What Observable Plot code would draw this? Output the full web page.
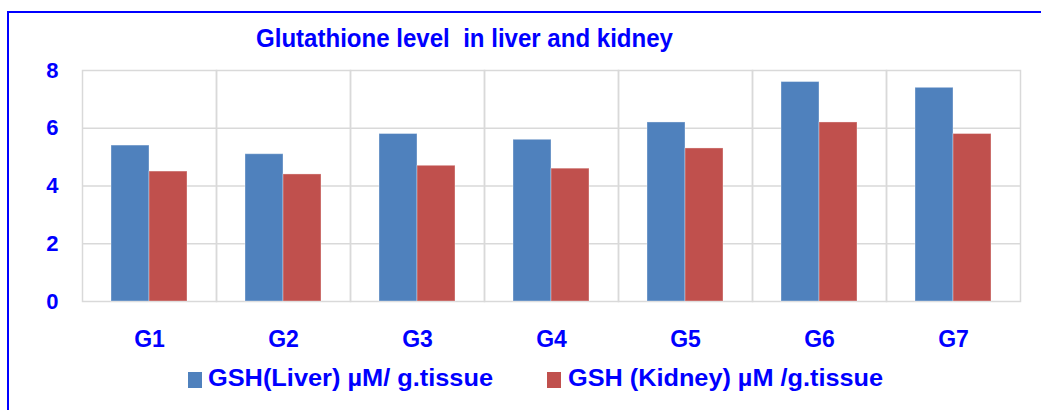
<!DOCTYPE html>
<html>
<head>
<meta charset="utf-8">
<script src="https://cdn.jsdelivr.net/npm/d3@7"></script>
<script src="https://cdn.jsdelivr.net/npm/@observablehq/plot@0.6"></script>
<style>
  body { margin: 0; background: #fff; }
  #wrap { position: relative; width: 1041px; height: 410px; overflow: hidden; background: #fff;
          font-family: "Liberation Sans", Arial, sans-serif; }
  #border { position: absolute; left: 7px; top: 11px; width: 1100px; height: 500px;
            border: 2px solid #0000FF; box-sizing: border-box; }
  #title { position: absolute; left: 256px; top: 24.7px; transform-origin: 0 0; z-index: 2;
           font-size: 26px; line-height: 26px; font-weight: bold; color: #0000FF; white-space: pre; }
  #chart { position: absolute; left: 0; top: 40px; z-index: 1; }
  .leg { position: absolute; top: 365.7px; font-size: 24px; line-height: 24px; font-weight: bold;
         color: #0000FF; white-space: pre; transform-origin: 0 0; }
  .sw { position: absolute; top: 372px; width: 14px; height: 16px; }
</style>
</head>
<body>
<div id="wrap">
  <div id="border"></div>
  <div id="chart"></div>
  <div id="title"></div>
  <div id="legend"></div>
</div>
<script>
const titleText = "Glutathione level  in liver and kidney";
const groups = ["G1", "G2", "G3", "G4", "G5", "G6", "G7"];
const seriesNames = ["GSH(Liver) µM/ g.tissue", "GSH (Kidney) µM /g.tissue"];
const liver = [5.4, 5.1, 5.8, 5.6, 6.2, 7.6, 7.4];
const kidney = [4.5, 4.4, 4.7, 4.6, 5.3, 6.2, 5.8];
const yTicks = [0, 2, 4, 6, 8];
const colors = ["#4F81BD", "#C0504D"];

const data = [];
groups.forEach((g, i) => {
  data.push({group: g, series: seriesNames[0], value: liver[i]});
  data.push({group: g, series: seriesNames[1], value: kidney[i]});
});

function fitWidth(el, target) {
  const w = el.getBoundingClientRect().width;
  if (w > 0) el.style.transform = "scaleX(" + (target / w) + ")";
}

const title = document.getElementById("title");
title.textContent = titleText;
fitWidth(title, 417);

const grid = "#d9d9d9";
const plot = Plot.plot({
  width: 1041,
  height: 320,
  marginLeft: 82,
  marginRight: 21,
  marginTop: 30,
  marginBottom: 59,
  style: {fontFamily: '"Liberation Sans", Arial, sans-serif', fontSize: "22px", fontWeight: "bold", color: "#0000FF", background: "transparent"},
  fx: {domain: groups, padding: 0, axis: "bottom", tickSize: 0, tickPadding: 29, label: null},
  x: {domain: seriesNames, paddingInner: 0, paddingOuter: 0.718, axis: null},
  y: {domain: [0, 8], ticks: yTicks, tickSize: 0, tickPadding: 24, label: null, tickFormat: d3.format("d")},
  color: {domain: seriesNames, range: colors},
  marks: [
    Plot.ruleY([2, 4, 6], {stroke: grid, strokeWidth: 1.5}),
    Plot.frame({stroke: grid, strokeWidth: 1.5}),
    Plot.barY(data, {fx: "group", x: "series", y: "value", fill: "series", stroke: "#ffffff", strokeOpacity: 0.35, strokeWidth: 1})
  ]
});
document.getElementById("chart").appendChild(plot);
d3.select(plot).selectAll('[aria-label="fx-axis tick label"] text').style("font-size", "23px");

const legend = document.getElementById("legend");
const legPos = [{sw: 188, tx: 208, w: 285}, {sw: 547, tx: 568, w: 315}];
seriesNames.forEach((name, i) => {
  const sw = document.createElement("div");
  sw.className = "sw";
  sw.style.left = legPos[i].sw + "px";
  sw.style.background = colors[i];
  legend.appendChild(sw);
  const t = document.createElement("div");
  t.className = "leg";
  t.style.left = legPos[i].tx + "px";
  t.textContent = name;
  legend.appendChild(t);
  fitWidth(t, legPos[i].w);
});
</script>
</body>
</html>
